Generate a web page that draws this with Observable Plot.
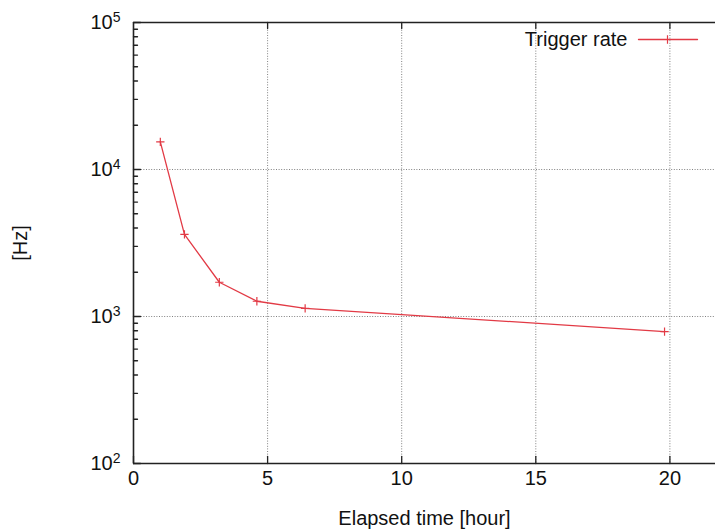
<!DOCTYPE html>
<html><head><meta charset="utf-8">
<script src="https://cdn.jsdelivr.net/npm/d3@7"></script>
<script src="https://cdn.jsdelivr.net/npm/@observablehq/plot@0.6"></script>
<style>body{margin:0;background:#fff;}</style>
</head><body><div id="chart"></div>
<script>
const hours = [1.0, 1.9, 3.2, 4.6, 6.4, 19.8];
const rateHz = [15400, 3620, 1710, 1270, 1135, 790];
const seriesName = "Trigger rate";
const xTicks = [0, 5, 10, 15, 20];
const yMajor = [1e2, 1e3, 1e4, 1e5];
const minorSteps = [2, 3, 4, 5, 6, 7, 8, 9];
const yMinor = [1e2, 1e3, 1e4].flatMap(b => minorSteps.map(m => m * b));

const data = hours.map((h, i) => ({h, r: rateHz[i]}));
const RED = "#e23a45";
const INK = "#222";
const FS = 20;
const GRID = {stroke: "#808080", strokeOpacity: 1, strokeDasharray: "1,1.6", strokeWidth: 1};
const segment = {draw(c, l) { c.moveTo(0, 0); c.lineTo(0, -l); }};
const tick = (opts) => ({anchor: "start", shape: segment, stroke: INK, strokeWidth: 1.3, ...opts});

const chart = Plot.plot({
  width: 715, height: 529,
  marginLeft: 133, marginRight: 0, marginTop: 22, marginBottom: 66,
  x: {domain: [0, 21.7]},
  y: {type: "log", domain: [1e2, 1e5]},
  style: {fontFamily: "'Liberation Sans', Arial, sans-serif", fontSize: FS + "px", background: "#fff", color: "#111"},
  marks: [
    Plot.gridX(xTicks.slice(1), GRID),
    Plot.gridY([1e3, 1e4], GRID),
    Plot.line(data, {x: "h", y: "r", stroke: RED, strokeWidth: 1.3}),
    Plot.dot(data, {x: "h", y: "r", symbol: "plus", r: 2.8, stroke: RED, strokeWidth: 1.2}),
    // inward ticks
    Plot.vector(xTicks, tick({x: d => d, frameAnchor: "bottom", length: 7, rotate: 0})),
    Plot.vector(xTicks.slice(1), tick({x: d => d, frameAnchor: "top", length: 6, rotate: 180})),
    Plot.vector(yMajor, tick({y: d => d, frameAnchor: "left", length: 7, rotate: 90})),
    Plot.vector(yMinor, tick({y: d => d, frameAnchor: "left", length: 4, rotate: 90})),
    // frame
    Plot.ruleX([0], {strokeWidth: 1.6, stroke: INK}),
    Plot.ruleY([1e2, 1e5], {strokeWidth: 1.6, stroke: INK}),
    Plot.axisX(xTicks, {anchor: "bottom", tickSize: 0, tickPadding: 7, fontSize: FS, label: "Elapsed time [hour]", labelAnchor: "center", labelOffset: 61, labelArrow: "none"}),
    Plot.axisY(yMajor, {anchor: "left", tickSize: 0, tickPadding: 13, fontSize: FS, tickFormat: d => "10^" + Math.round(Math.log10(d)), label: "[Hz]", labelAnchor: "center", labelOffset: 121, labelArrow: "none"}),
    // legend
    Plot.text([seriesName], {frameAnchor: "top-right", dx: -88, dy: 17, textAnchor: "end", lineAnchor: "middle", fontSize: FS}),
    Plot.vector([seriesName], {frameAnchor: "top-right", dx: -77, dy: 17, length: 59, rotate: 90, anchor: "start", stroke: RED, strokeWidth: 1.3, shape: segment}),
    Plot.dot([seriesName], {frameAnchor: "top-right", dx: -48, dy: 17, symbol: "plus", r: 2.8, stroke: RED, strokeWidth: 1.2})
  ]
});

// superscript exponents on the log-axis labels
d3.select(chart).selectAll("g[aria-label='y-axis tick label'] text").each(function() {
  const s = this.textContent;
  if (!s.includes("^")) return;
  const [base, exp] = s.split("^");
  this.textContent = "";
  d3.select(this).append("tspan").text(base);
  d3.select(this).append("tspan").attr("dy", "-0.5em").attr("font-size", "14px").text(exp);
});

document.getElementById("chart").append(chart);
</script>
</body></html>
